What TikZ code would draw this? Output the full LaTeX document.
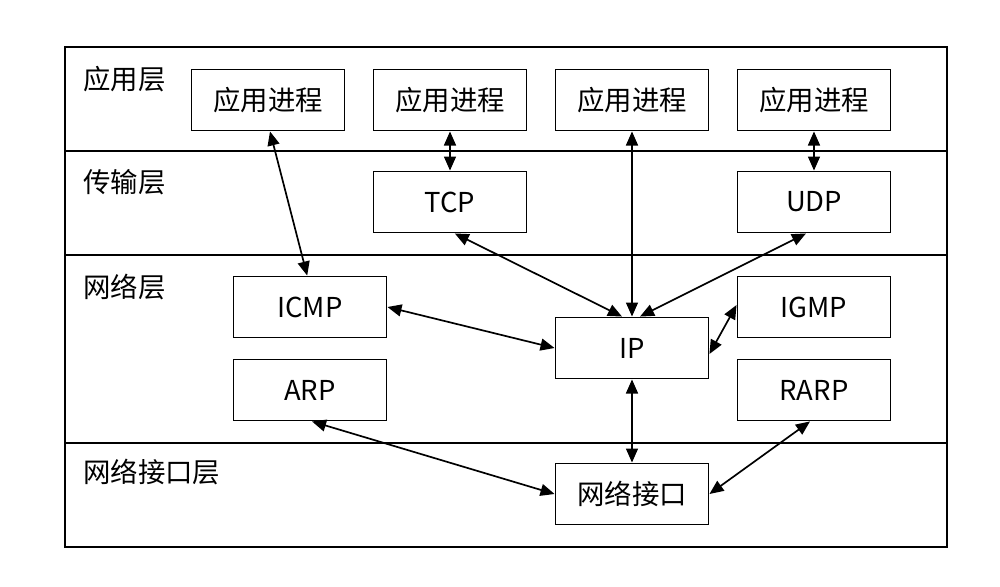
\documentclass[tikz,border=0pt]{standalone}
\usepackage{fontspec}
\setmainfont{Noto Sans CJK SC}
\usetikzlibrary{arrows.meta}

\tikzset{
  procbox/.style={draw, line width=1.2pt, minimum width=38.3mm, minimum height=15.3mm,
    inner sep=0pt, font=\fontsize{19.5}{22}\selectfont},
  layername/.style={anchor=west, inner sep=0pt, font=\fontsize{19.5}{22}\selectfont},
  link/.style={line width=1.2pt,
    {Triangle[length=10pt,width=8.5pt]}-{Triangle[length=10pt,width=8.5pt]}}
}

\begin{document}
\begin{tikzpicture}[x=0.25mm, y=-0.25mm]
    \useasboundingbox (0,0) rectangle (1000,586);

    % Draw the frame and the layer lines
    \draw[line width=1.2pt] (65,47) rectangle (947,547);
    \draw[line width=1.2pt] (65,151) -- (947,151);
    \draw[line width=1.2pt] (65,255) -- (947,255);
    \draw[line width=1.2pt] (65,443) -- (947,443);

    % Add layer labels
    \node[layername] (lapp) at (83,79) {应用层};
    \node[layername] (ltrans) at (83,182) {传输层};
    \node[layername] (lnet) at (83,287) {网络层};
    \node[layername] (llink) at (83,472) {网络接口层};

    % Application processes
    \node[procbox] (app1) at (268,100) {应用进程};
    \node[procbox] (app2) at (450,100) {应用进程};
    \node[procbox] (app3) at (632,100) {应用进程};
    \node[procbox] (app4) at (814,100) {应用进程};

    % Transport layer
    \node[procbox] (tcp) at (450,202) {TCP};
    \node[procbox] (udp) at (814,202) {UDP};

    % Network layer
    \node[procbox] (icmp) at (310,307) {ICMP};
    \node[procbox] (igmp) at (814,307) {IGMP};
    \node[procbox] (ip) at (632,348) {IP};
    \node[procbox] (arp) at (310,390) {ARP};
    \node[procbox] (rarp) at (814,390) {RARP};

    % Network interface
    \node[procbox] (nic) at (632,494) {网络接口};

    % Draw the links
    \draw[link] ([xshift=0.5mm]app1.south) -- ([xshift=-0.7mm]icmp.north);
    \draw[link] (app2.south) -- (tcp.north);
    \draw[link] (app3.south) -- (ip.north);
    \draw[link] (app4.south) -- (udp.north);
    \draw[link] ([xshift=1.2mm]tcp.south) -- ([xshift=-2.5mm]ip.north);
    \draw[link] ([xshift=-2mm]udp.south) -- ([xshift=2mm]ip.north);
    \draw[link] (icmp.east) -- (ip.west);
    \draw[link] ([yshift=0.5mm]igmp.west) -- ([yshift=-1.5mm]ip.east);
    \draw[link] (ip.south) -- (nic.north);
    \draw[link] ([xshift=0.5mm]arp.south) -- (nic.west);
    \draw[link] ([xshift=-1mm]rarp.south) -- (nic.east);

\end{tikzpicture}
\end{document}
